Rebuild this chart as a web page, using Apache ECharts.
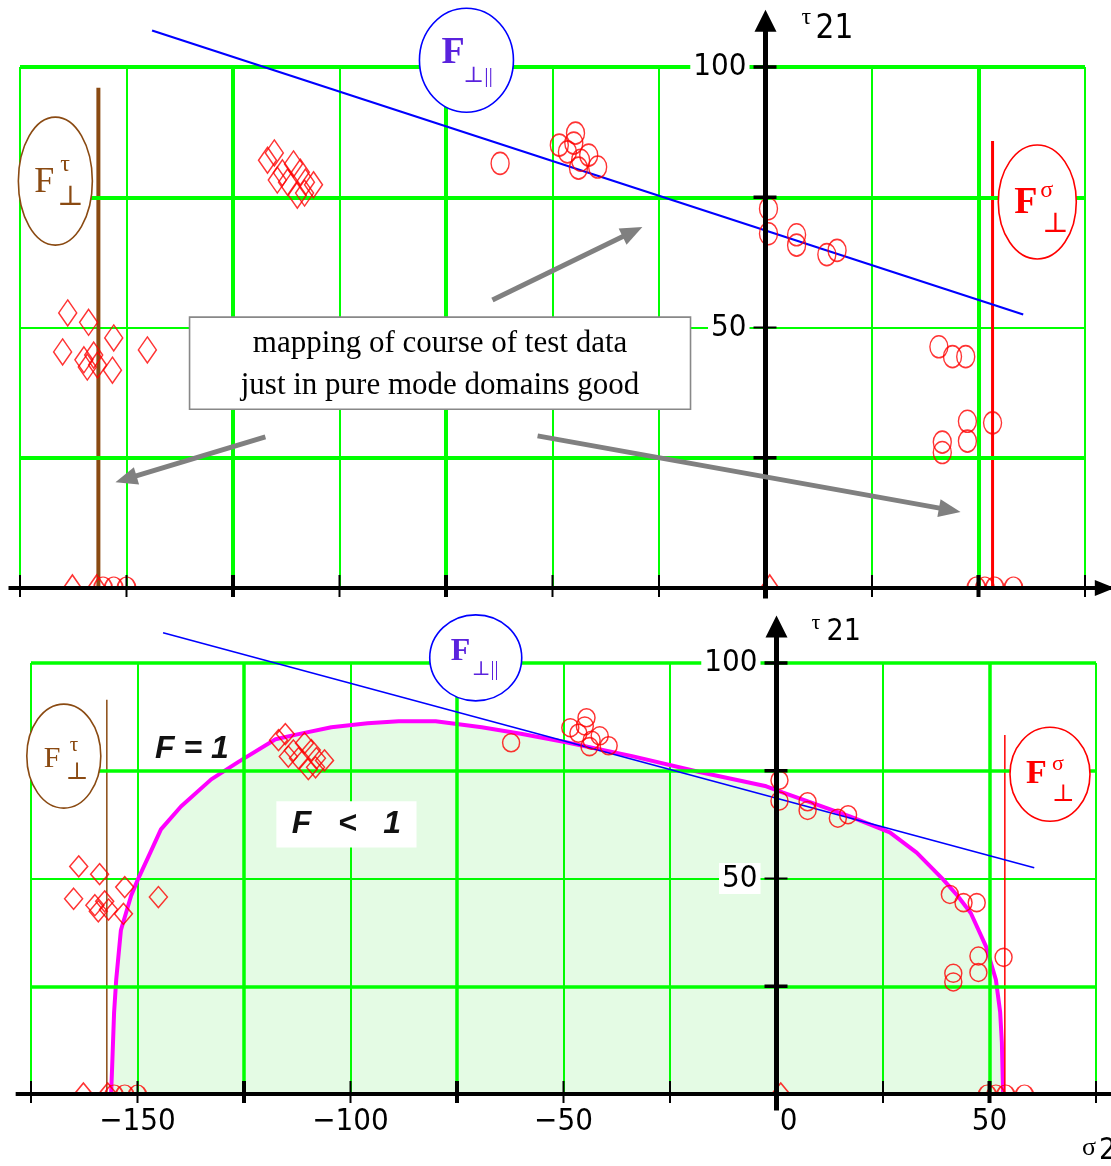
<!DOCTYPE html>
<html>
<head>
<meta charset="utf-8">
<script src="https://cdn.jsdelivr.net/npm/echarts@6/dist/echarts.min.js"></script>
<style>
html,body{margin:0;padding:0;background:#ffffff;}
#c{width:1111px;height:1166px;}
</style>
</head>
<body>
<div id="c"></div>
<script>
// ---------------- data ----------------
const xTicks = [-175, -150, -125, -100, -75, -50, -25, 0, 25, 50, 75];
const xLabelValues = [-150, -100, -50, 0, 50];
const yTicks = [25, 50, 75, 100];
const yLabelValues = [50, 100];
const xThickGrid = [-125, -75, 50];
const yThickGrid = [25, 75, 100];

// test data: diamonds (sigma2, tau21)
const diamondPts = [
  [-163.8, 52.8], [-158.9, 51.0], [-165.0, 45.3], [-153.0, 48.0], [-145.1, 45.7],
  [-153.3, 41.8], [-159.2, 42.4], [-157.7, 44.7], [-160.0, 43.8], [-156.8, 42.8],
  [-116.9, 82.1], [-115.3, 83.5], [-113.4, 79.7], [-110.8, 81.4], [-109.2, 79.8],
  [-108.0, 77.9], [-106.1, 77.4], [-109.9, 75.4], [-112.2, 77.9], [-114.6, 78.3], [-108.2, 75.8]
];
// test data: circles (sigma2, tau21)
const circlePts = [
  [-62.3, 81.5],
  [-48.4, 85.0], [-44.6, 87.3], [-45.0, 85.4], [-46.5, 83.7], [-43.4, 82.1], [-41.5, 83.1], [-39.4, 80.8], [-43.9, 80.6],
  [0.7, 72.8], [0.7, 68.0], [7.3, 67.8], [7.3, 65.8], [14.4, 64.0], [16.8, 64.8],
  [40.7, 46.3], [43.9, 44.4], [47.0, 44.4],
  [41.5, 28.0], [41.5, 26.0], [47.4, 32.0], [47.4, 28.2], [53.3, 31.7]
];
// points lying on the sigma axis (tau21 = 0)
const diamondOnAxis = [[-162.7, 0], [-157.0, 0], [1.0, 0]];
const circleOnAxis = [[-155.5, 0], [-153.0, 0], [-150.0, 0], [49.5, 0], [51.5, 0], [53.8, 0], [58.2, 0]];

// F_perp|| straight line
const lineFpp = [[-144.0, 107.0], [60.5, 52.5]];
// F_perp tau (brown) and F_perp sigma (red) vertical lines, per panel
const brownLineTop = [[-156.6, 0], [-156.6, 96.0]];
const redLineTop = [[53.3, 0], [53.3, 85.8]];
const brownLineBottom = [[-157.2, 0], [-157.2, 91.5]];
const redLineBottom = [[53.6, 0], [53.6, 83.3]];

// F = 1 failure curve (bottom panel)
const fOneCurve = [
  [-156.2, 0], [-156.0, 5.0], [-155.5, 18.8], [-155.0, 26.5], [-153.9, 38.0], [-151.5, 46.0],
  [-149.9, 49.8], [-147.0, 56.0], [-144.5, 61.4], [-139.8, 66.7], [-132.7, 73.0], [-126.4, 77.0],
  [-117.6, 82.3], [-112.2, 83.5], [-104.5, 85.1], [-96.0, 86.0], [-88.7, 86.5], [-80.0, 86.5],
  [-69.2, 85.1], [-60.0, 83.6], [-49.4, 81.6], [-33.9, 78.4], [-18.1, 74.7], [-2.4, 71.4],
  [1.4, 70.0], [9.0, 67.3], [17.2, 64.4], [26.6, 60.7], [32.9, 56.0], [39.1, 49.8], [42.5, 46.0],
  [45.6, 42.0], [49.2, 34.2], [51.5, 26.5], [52.5, 19.0], [52.9, 12.0], [53.2, 0]
];

// ---------------- styling ----------------
const GREEN = '#00ff00';
const RED = '#ff0000';
const BLUE = '#0000ff';
const BROWN = '#8a4a12';
const MAG = '#ff00ff';
const NUMFONT = "'DejaVu Sans Condensed','Liberation Sans Narrow','Liberation Sans',sans-serif";
const SERIF = "'Liberation Serif','DejaVu Serif',serif";
const SANS = "'Liberation Sans',Arial,sans-serif";
const X_MIN = -175, X_MAX = 75;

const panels = [
  { grid: { left: 20, width: 1065, top: 67, height: 521 }, thick: 4, thin: 2,
    diamond: [18, 26], circle: [18, 22], halfDiamond: [18, 13], halfCircle: [18, 11],
    brown: brownLineTop, red: redLineTop, vw: 4, rw: 3, bw: 2.2 },
  { grid: { left: 31, width: 1065, top: 663, height: 431 }, thick: 3.5, thin: 2,
    diamond: [18, 21], circle: [17, 18], halfDiamond: [18, 11], halfCircle: [17, 9],
    brown: brownLineBottom, red: redLineBottom, vw: 1.5, rw: 1.5, bw: 1.6 }
];

const fmtNum = v => (v < 0 ? '\u2212' + Math.abs(v) : String(v));

const grids = [], xAxes = [], yAxes = [], series = [];
panels.forEach((pn, p) => {
  grids.push(Object.assign({ containLabel: false, outerBoundsMode: 'none' }, pn.grid));
  xAxes.push({
    type: 'value', gridIndex: p, min: X_MIN, max: X_MAX, interval: 25,
    axisLine: { show: false, onZero: false },
    axisTick: { show: false },
    splitLine: { show: true, lineStyle: { color: GREEN, width: pn.thin } },
    axisLabel: p === 1 ? {
      show: true, margin: 12, color: '#000',
      formatter: v => v === 0 ? '{z|0}' : (xLabelValues.includes(v) ? '{n|' + fmtNum(v) + '}' : ''),
      rich: {
        n: { fontFamily: NUMFONT, fontSize: 31, color: '#000' },
        z: { fontFamily: NUMFONT, fontSize: 31, color: '#000', padding: [0, 0, 0, 24] }
      }
    } : { show: false }
  });
  // primary y axis (grid lines)
  yAxes.push({
    type: 'value', gridIndex: p, min: 0, max: 100, interval: 25,
    axisLine: { show: false, onZero: false }, axisTick: { show: false }, axisLabel: { show: false },
    splitLine: { show: true, lineStyle: { color: GREEN, width: pn.thin } }
  });
  // label y axis, shifted onto sigma = 0 (offset derived from the x scale)
  const zeroOffset = -(0 - X_MIN) / (X_MAX - X_MIN) * pn.grid.width;
  yAxes.push({
    type: 'value', gridIndex: p, min: 0, max: 100, interval: 25, position: 'left', z: 5,
    offset: zeroOffset,
    axisLine: { show: false, onZero: false }, axisTick: { show: false }, splitLine: { show: false },
    axisLabel: {
      show: true, margin: 16,
      formatter: v => yLabelValues.includes(v) ? '{b|' + v + '}' : '',
      rich: { b: { fontFamily: NUMFONT, fontSize: 31, color: '#000', backgroundColor: '#fff', padding: [0, 3, 0, 3] } }
    }
  });

  const xi = p, yi = 2 * p;
  // thick grid lines
  series.push({
    type: 'line', xAxisIndex: xi, yAxisIndex: yi, data: [], z: 1, silent: true,
    markLine: {
      silent: true, symbol: ['none', 'none'], label: { show: false }, animation: false,
      lineStyle: { color: GREEN, width: pn.thick, type: 'solid' },
      emphasis: { disabled: true },
      data: [...xThickGrid.map(v => ({ xAxis: v })), ...yThickGrid.map(v => ({ yAxis: v }))]
    }
  });
  if (p === 1) {
    series.push({
      name: 'F = 1', type: 'line', xAxisIndex: xi, yAxisIndex: yi, data: fOneCurve,
      showSymbol: false, symbol: 'none', z: 3, clip: false,
      lineStyle: { color: MAG, width: 4 },
      areaStyle: { color: 'rgba(0,215,0,0.15)', origin: 0 }
    });
  }
  series.push({
    type: 'line', xAxisIndex: xi, yAxisIndex: yi, data: pn.brown, symbol: 'none', z: 4, clip: false,
    lineStyle: { color: BROWN, width: pn.vw }
  });
  series.push({
    type: 'line', xAxisIndex: xi, yAxisIndex: yi, data: pn.red, symbol: 'none', z: 4, clip: false,
    lineStyle: { color: RED, width: pn.rw }
  });
  series.push({
    type: 'line', xAxisIndex: xi, yAxisIndex: yi, data: lineFpp, symbol: 'none', z: 5, clip: false,
    lineStyle: { color: BLUE, width: pn.bw }
  });
  const mk = { color: 'rgba(255,255,255,0)', borderColor: RED, borderWidth: 1.5 };
  series.push({
    type: 'scatter', xAxisIndex: xi, yAxisIndex: yi, data: diamondPts, symbol: 'diamond',
    symbolSize: pn.diamond, itemStyle: mk, z: 6, clip: false
  });
  series.push({
    type: 'scatter', xAxisIndex: xi, yAxisIndex: yi, data: circlePts, symbol: 'circle',
    symbolSize: pn.circle, itemStyle: mk, z: 6, clip: false
  });
  series.push({
    type: 'scatter', xAxisIndex: xi, yAxisIndex: yi, data: diamondOnAxis,
    symbol: 'path://M0,10 L10,0 L20,10', symbolSize: pn.halfDiamond, symbolOffset: [0, '-50%'],
    itemStyle: mk, z: 6, clip: false
  });
  series.push({
    type: 'scatter', xAxisIndex: xi, yAxisIndex: yi, data: circleOnAxis,
    symbol: 'path://M0,10 A10,10 0 0 1 20,10', symbolSize: pn.halfCircle, symbolOffset: [0, '-50%'],
    itemStyle: mk, z: 6, clip: false
  });
});

const chart = echarts.init(document.getElementById('c'), null, { renderer: 'canvas' });
chart.setOption({
  animation: false,
  backgroundColor: '#ffffff',
  grid: grids, xAxis: xAxes, yAxis: yAxes, series: series
});

// ---------------- annotations placed through the axes' scales ----------------
const P = (p, x, y) => chart.convertToPixel({ xAxisIndex: p, yAxisIndex: 2 * p }, [x, y]);
const G = [];
function seg(a, b, w, color, z) {
  G.push({ type: 'line', silent: true, z: z || 20, shape: { x1: a[0], y1: a[1], x2: b[0], y2: b[1] }, style: { stroke: color, lineWidth: w } });
}
function poly(pts, color, z) {
  G.push({ type: 'polygon', silent: true, z: z || 20, shape: { points: pts }, style: { fill: color } });
}
function txt(x, y, text, font, color, align, z) {
  G.push({ type: 'text', silent: true, z: z || 30, x: x, y: y,
    style: { text: text, font: font, fill: color, align: align || 'left', verticalAlign: 'middle' } });
}
function arrow(a, b, w, color, hl, hw) {
  const dx = b[0] - a[0], dy = b[1] - a[1], L = Math.hypot(dx, dy), ux = dx / L, uy = dy / L;
  const base = [b[0] - ux * hl, b[1] - uy * hl], nx = -uy, ny = ux;
  seg(a, [base[0] + ux * 2, base[1] + uy * 2], w, color, 25);
  poly([b, [base[0] + nx * hw, base[1] + ny * hw], [base[0] - nx * hw, base[1] - ny * hw]], color, 25);
}
function ellipseLabel(c, rx, ry, color) {
  G.push({ type: 'ellipse', silent: true, z: 22, shape: { cx: c[0], cy: c[1], rx: rx, ry: ry },
    style: { fill: '#fff', stroke: color, lineWidth: 1.6 } });
}

// annotation anchors (data units of each panel)
const ann = [
  { xStart: -177.7, xEnd: 82, yTop: 111, yBottom: -2,
    fpp: [-70.2, 101.3, 47, 52], ftau: [-166.7, 78.1, 37, 64], fsig: [63.8, 74.1, 39, 57] },
  { xStart: -178.6, xEnd: 86, yTop: 111, yBottom: -3.8,
    fpp: [-70.6, 101.2, 46, 43], ftau: [-167.3, 78.4, 37, 52], fsig: [64.2, 74.2, 40, 47] }
];

panels.forEach((pn, p) => {
  const a = ann[p];
  // sigma axis
  const xa = P(p, a.xStart, 0), xb = P(p, a.xEnd, 0);
  seg(xa, xb, 4, '#000', 21);
  if (p === 0) poly([[xb[0], xb[1]], [xb[0] - 20, xb[1] - 8], [xb[0] - 20, xb[1] + 8]], '#000', 21);
  // tau axis
  const ya = P(p, 0, a.yBottom), yt = P(p, 0, a.yTop);
  seg(ya, [yt[0], yt[1] + 18], 5, '#000', 21);
  poly([[yt[0], yt[1]], [yt[0] - 11, yt[1] + 22], [yt[0] + 11, yt[1] + 22]], '#000', 21);
  // ticks
  xTicks.forEach(v => {
    if (v === 0) return;
    const q = P(p, v, 0);
    seg([q[0], q[1] - 13], [q[0], q[1] + 9], xThickGrid.includes(v) ? 4 : 2, '#000', 21);
  });
  yTicks.forEach(v => {
    const q = P(p, 0, v);
    seg([q[0] - 12, q[1]], [q[0] + 11, q[1]], v === 50 ? 2 : 3.5, '#000', 21);
  });
  // tau21 axis title
  const o = P(p, 0, 100);
  if (p === 0) {
    txt(o[0] + 36, o[1] - 49, '\u03C4', '24px ' + SERIF, '#000');
    txt(o[0] + 50, o[1] - 38, '21', '33px ' + NUMFONT, '#000');
  } else {
    txt(o[0] + 35, o[1] - 40, '\u03C4', '22px ' + SERIF, '#000');
    txt(o[0] + 50, o[1] - 31, '21', '30px ' + NUMFONT, '#000');
  }
  // F_perp|| label
  const cpp = P(p, a.fpp[0], a.fpp[1]);
  ellipseLabel(cpp, a.fpp[2], a.fpp[3], BLUE);
  const PUR = '#5a22dd';
  if (p === 0) {
    txt(cpp[0] - 25, cpp[1] - 7, 'F', 'bold 38px ' + SERIF, PUR);
    txt(cpp[0] - 3, cpp[1] + 16, '\u22A5||', '22px ' + SERIF, PUR);
  } else {
    txt(cpp[0] - 25, cpp[1] - 6, 'F', 'bold 32px ' + SERIF, PUR);
    txt(cpp[0] - 4, cpp[1] + 12, '\u22A5||', '20px ' + SERIF, PUR);
  }
  // F_perp tau label
  const ct = P(p, a.ftau[0], a.ftau[1]);
  ellipseLabel(ct, a.ftau[2], a.ftau[3], BROWN);
  if (p === 0) {
    txt(ct[0] - 21, ct[1] + 1, 'F', '36px ' + SERIF, BROWN);
    txt(ct[0] + 5, ct[1] - 16, '\u03C4', '24px ' + SERIF, BROWN);
    txt(ct[0] + 2, ct[1] + 17, '\u22A5', '28px ' + SERIF, BROWN);
  } else {
    txt(ct[0] - 20, ct[1] + 3, 'F', '30px ' + SERIF, BROWN);
    txt(ct[0] + 6, ct[1] - 11, '\u03C4', '21px ' + SERIF, BROWN);
    txt(ct[0] + 2, ct[1] + 17, '\u22A5', '24px ' + SERIF, BROWN);
  }
  // F_perp sigma label
  const cs = P(p, a.fsig[0], a.fsig[1]);
  ellipseLabel(cs, a.fsig[2], a.fsig[3], RED);
  if (p === 0) {
    txt(cs[0] - 23, cs[1] + 1, 'F', 'bold 38px ' + SERIF, RED);
    txt(cs[0] + 3, cs[1] - 11, '\u03C3', '24px ' + SERIF, RED);
    txt(cs[0] + 5, cs[1] + 23, '\u22A5', '28px ' + SERIF, RED);
  } else {
    txt(cs[0] - 24, cs[1], 'F', 'bold 34px ' + SERIF, RED);
    txt(cs[0] + 2, cs[1] - 10, '\u03C3', '22px ' + SERIF, RED);
    txt(cs[0] + 2, cs[1] + 21, '\u22A5', '24px ' + SERIF, RED);
  }
});

// top panel: note box and arrows
const boxA = P(0, -135.2, 52.0), boxB = P(0, -17.6, 34.3);
G.push({ type: 'rect', silent: true, z: 24,
  shape: { x: boxA[0], y: boxA[1], width: boxB[0] - boxA[0], height: boxB[1] - boxA[1] },
  style: { fill: '#fff', stroke: '#888', lineWidth: 1.6 } });
const bx = (boxA[0] + boxB[0]) / 2, bh = boxB[1] - boxA[1];
txt(bx, boxA[1] + bh * 0.29, 'mapping of course of test data', '31px ' + SERIF, '#000', 'center');
txt(bx, boxA[1] + bh * 0.75, 'just in pure mode domains good', '31px ' + SERIF, '#000', 'center');
const GRAY = '#808080';
arrow(P(0, -64.1, 55.3), P(0, -28.9, 69.3), 5, GRAY, 22, 9);
arrow(P(0, -117.4, 29.0), P(0, -152.6, 20.3), 5, GRAY, 22, 9);
arrow(P(0, -53.5, 29.2), P(0, 45.8, 14.6), 5, GRAY, 22, 9);

// bottom panel: F = 1 / F < 1 and sigma axis title
const f1 = P(1, -145.9, 80.0);
txt(f1[0], f1[1], 'F = 1', 'italic bold 32px ' + SANS, '#111');
const fbA = P(1, -117.4, 67.9), fbB = P(1, -84.5, 57.2);
G.push({ type: 'rect', silent: true, z: 24,
  shape: { x: fbA[0], y: fbA[1], width: fbB[0] - fbA[0], height: fbB[1] - fbA[1] },
  style: { fill: '#fff' } });
txt((fbA[0] + fbB[0]) / 2, (fbA[1] + fbB[1]) / 2, 'F   <   1', 'italic bold 32px ' + SANS, '#111', 'center');
const sx = P(1, 75, 0);
txt(sx[0] - 14, sx[1] + 54, '\u03C3', '26px ' + SERIF, '#000');
txt(sx[0] + 3, sx[1] + 57, '2', '30px ' + NUMFONT, '#000');

chart.setOption({ graphic: { elements: G } });
</script>
</body>
</html>
